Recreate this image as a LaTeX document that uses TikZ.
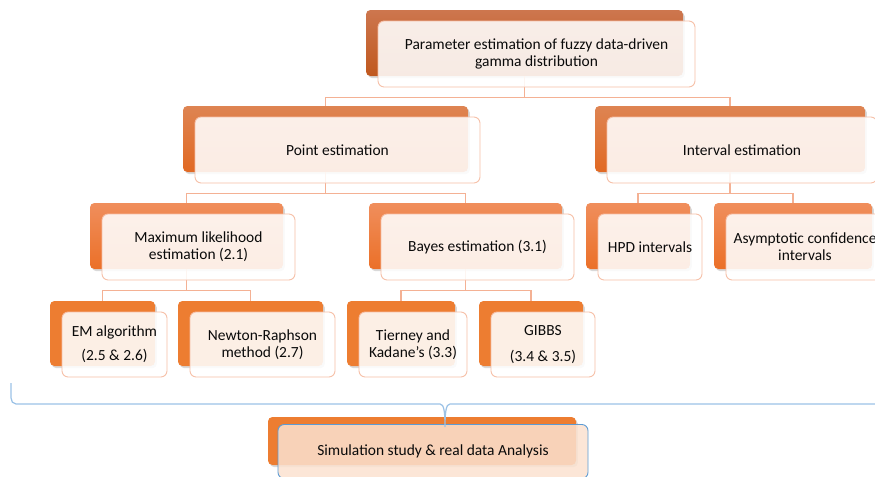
\documentclass[tikz,border=0pt]{standalone}
\usepackage{fontspec}
\setmainfont{Carlito}
\usetikzlibrary{positioning, calc, shadows}
\definecolor{cAT}{RGB}{205,118,78}
\definecolor{cAB}{RGB}{192,88,30}
\definecolor{cBT}{RGB}{222,132,82}
\definecolor{cBB}{RGB}{225,105,35}
\definecolor{cCT}{RGB}{240,142,92}
\definecolor{cCB}{RGB}{235,112,40}
\definecolor{cDT}{RGB}{237,125,49}
\definecolor{cDB}{RGB}{237,125,49}
\definecolor{cEdge}{RGB}{246,190,165}
\definecolor{cLink}{RGB}{244,177,148}
\definecolor{cBlue}{RGB}{155,194,230}
\definecolor{cSimEdge}{RGB}{91,155,213}
\definecolor{cSimFill}{RGB}{251,226,208}
\definecolor{cTxt}{RGB}{10,10,10}

\pgfdeclarelayer{behind}
\pgfsetlayers{behind,main}

% orange box behind, text box in front: name, x, y, width, height, level, text
\newcommand{\orbox}[7]{
    \begin{pgfonlayer}{behind}
        \node [back, top color=c#6T, bottom color=c#6B, minimum width=#4cm, minimum height=#5cm] (#1B) at (#2,#3) {};
    \end{pgfonlayer}
    \node [front, minimum width=#4cm, minimum height=#5cm] (#1F) at ([shift={(0.24,-0.22)}]#1B.center) {#7};
}

\begin{document}
\begin{tikzpicture}[font=\fontsize{8.8}{9.8}\selectfont,
    back/.style={rectangle, rounded corners=2.5pt, inner sep=0pt,
        drop shadow={shadow xshift=1pt, shadow yshift=-1.2pt, opacity=0.3}},
    front/.style={rectangle, rounded corners=3.5pt, draw=cEdge, line width=0.5pt,
        fill=white, fill opacity=0.88, text opacity=1, text=cTxt, align=center, inner sep=0pt},
    link/.style={draw=cLink, line width=0.9pt}]

    \useasboundingbox (0,0) rectangle (17.5,-9.52);

    % Boxes, level by level
    \orbox{top}{10.49}{-0.86}{6.34}{1.32}{A}{Parameter estimation of fuzzy data-driven\\gamma distribution}
    \orbox{point}{6.51}{-2.78}{5.70}{1.32}{B}{Point estimation}
    \orbox{interval}{14.60}{-2.78}{5.40}{1.32}{B}{Interval estimation}
    \orbox{ml}{3.73}{-4.72}{3.86}{1.32}{C}{Maximum likelihood\\estimation (2.1)}
    \orbox{bayes}{9.31}{-4.72}{3.86}{1.32}{C}{Bayes estimation (3.1)}
    \orbox{hpd}{12.76}{-4.72}{2.08}{1.32}{C}{HPD intervals}
    \orbox{asym}{15.86}{-4.72}{3.16}{1.32}{C}{Asymptotic confidence\\intervals}
    \orbox{em}{2.05}{-6.67}{2.10}{1.30}{D}{EM algorithm\\[4pt](2.5 \& 2.6)}
    \orbox{newton}{5.01}{-6.67}{2.90}{1.30}{D}{Newton-Raphson\\method (2.7)}
    \orbox{tierney}{8.02}{-6.67}{2.16}{1.30}{D}{Tierney and\\Kadane's (3.3)}
    \orbox{gibbs}{10.62}{-6.67}{2.08}{1.30}{D}{GIBBS\\[5pt](3.4 \& 3.5)}

    % Last box has a blue frame
    \begin{pgfonlayer}{behind}
        \node [back, fill=cDT, minimum width=6.16cm, minimum height=0.96cm] (simB) at (8.44,-8.82) {};
    \end{pgfonlayer}
    \node [front, draw=cSimEdge, fill=cSimFill, fill opacity=0.85, minimum width=6.20cm, minimum height=1.08cm]
        (simF) at ([shift={(0.22,-0.21)}]simB.center) {Simulation study \& real data Analysis};

    % Tree connectors
    \begin{pgfonlayer}{behind}
        \draw [link] (topB.south) -- ++(0,-0.42) -| (pointB.north);
        \draw [link] (topB.south) -- ++(0,-0.42) -| (intervalB.north);
        \draw [link] (pointB.south) -- ++(0,-0.42) -| (mlB.north);
        \draw [link] (pointB.south) -- ++(0,-0.42) -| (bayesB.north);
        \draw [link] (intervalB.south) -- ++(0,-0.42) -| (hpdB.north);
        \draw [link] (intervalB.south) -- ++(0,-0.42) -| (asymB.north);
        \draw [link] (mlB.south) -- ++(0,-0.42) -| (emB.north);
        \draw [link] (mlB.south) -- ++(0,-0.42) -| (newtonB.north);
        \draw [link] (bayesB.south) -- ++(0,-0.42) -| (tierneyB.north);
        \draw [link] (bayesB.south) -- ++(0,-0.42) -| (gibbsB.north);
    \end{pgfonlayer}

    % Brace above the last box
    \coordinate (braceL) at (0.22,-7.66);
    \coordinate (braceR) at (17.5,-8.08);
    \coordinate (braceTip) at ([xshift=0.24cm, yshift=-0.06cm]simF.north);
    \draw [cBlue, line width=0.7pt] (braceL) -- ++(0,-0.3) to[out=-90, in=180] ++(0.1,-0.12)
        -- ($(braceTip |- braceR)+(-0.1,0)$) .. controls ($(braceTip |- braceR)+(-0.02,0)$) and ($(braceTip)+(0,0.3)$) .. (braceTip)
        .. controls ($(braceTip)+(0,0.3)$) and ($(braceTip |- braceR)+(0.02,0)$) .. ($(braceTip |- braceR)+(0.1,0)$) -- (braceR);
\end{tikzpicture}
\end{document}
